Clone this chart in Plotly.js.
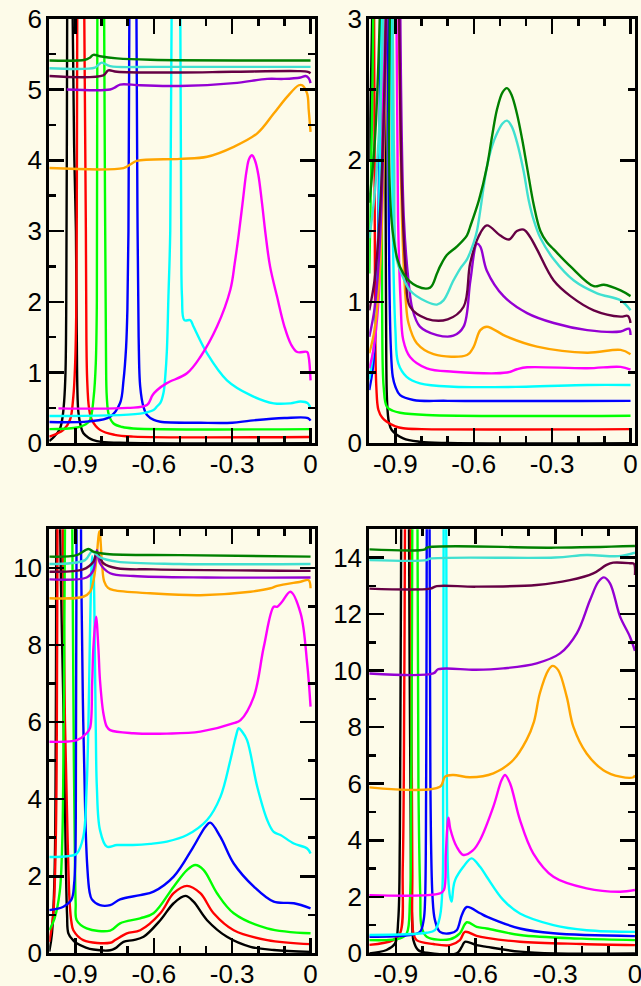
<!DOCTYPE html>
<html>
<head>
<meta charset="utf-8">
<script src="https://cdn.plot.ly/plotly-3.0.1.min.js"></script>
<style>
html,body{margin:0;padding:0;background:#fdfbe9;overflow:hidden;}
#chart{width:641px;height:986px;}
</style>
</head>
<body>
<div id="chart"></div>
<script>
// ---------- series names & colours ----------
const seriesNames = ['black','red','lime','blue','cyan','magenta','orange','violet','maroon','turquoise','green'];
const seriesColors = ['#000000','#ff0000','#00ff00','#0000ff','#00ffff','#ff00ff','#ffa500','#9400d3','#660044','#40e0d0','#008000'];

// ---------- tick labels ----------
const xTickVals = [-0.9, -0.6, -0.3, 0];
const xTickText = ['-0.9', '-0.6', '-0.3', '0'];
const yTickValsA = [0,1,2,3,4,5,6];
const yTickValsB = [0,1,2,3];
const yTickValsC = [0,2,4,6,8,10];
const yTickValsD = [0,2,4,6,8,10,12,14];

// ================= Panel A (top-left) =================
const A_black_x = [-1.0,-0.98,-0.96,-0.95,-0.943,-0.938,-0.935,-0.933,-0.931,-0.92,-0.912,-0.904,-0.898,-0.895,-0.889,-0.88,-0.87,-0.85,-0.834,-0.8,-0.7,0];
const A_black_y = [0.03,0.1,0.2,0.35,0.6,1.0,2,4,7,40,6.5,4,3,1.6,0.45,0.25,0.145,0.08,0.05,0.02,0.005,0];
const A_red_x = [-1.0,-0.946,-0.921,-0.908,-0.901,-0.897,-0.895,-0.893,-0.88,-0.866,-0.86,-0.858,-0.855,-0.848,-0.837,-0.806,-0.75,-0.679,0];
const A_red_y = [0.094,0.19,0.33,0.66,1.13,1.8,3,6,40,6,3,1.5,0.9,0.5,0.33,0.19,0.12,0.095,0.09];
const A_lime_x = [-1.0,-0.9,-0.86,-0.844,-0.83,-0.822,-0.818,-0.816,-0.803,-0.79,-0.786,-0.783,-0.78,-0.772,-0.754,-0.72,-0.679,0];
const A_lime_y = [0.2,0.22,0.27,0.33,0.66,1.13,2,6,40,6,3,1.3,0.66,0.4,0.28,0.23,0.21,0.2];
const A_blue_x = [-1.0,-0.85,-0.767,-0.729,-0.716,-0.706,-0.701,-0.697,-0.693,-0.68,-0.667,-0.662,-0.658,-0.652,-0.64,-0.626,-0.6,-0.575,-0.42,-0.3,-0.23,-0.1,-0.01,0];
const A_blue_y = [0.3,0.31,0.376,0.57,0.89,1.36,1.9,3,6.5,40,6.5,3,1.5,0.8,0.52,0.4,0.33,0.305,0.29,0.29,0.32,0.357,0.357,0.32];
const A_cyan_x = [-1.0,-0.652,-0.601,-0.588,-0.575,-0.563,-0.556,-0.55,-0.544,-0.537,-0.531,-0.515,-0.499,-0.495,-0.492,-0.483,-0.46,-0.448,-0.396,-0.32,-0.23,-0.141,-0.077,-0.038,-0.01,0];
const A_cyan_y = [0.385,0.42,0.47,0.52,0.57,0.71,0.95,1.3,2.07,3,6.5,40,6.5,3,2.07,1.74,1.74,1.65,1.27,0.89,0.68,0.565,0.565,0.59,0.565,0.49];
const A_magenta_x = [-0.965,-0.7,-0.626,-0.605,-0.588,-0.55,-0.473,-0.422,-0.358,-0.307,-0.29,-0.275,-0.26,-0.245,-0.235,-0.224,-0.213,-0.2,-0.186,-0.172,-0.155,-0.128,-0.1,-0.075,-0.051,-0.013,-0.007,0];
const A_magenta_y = [0.494,0.5,0.54,0.68,0.75,0.85,0.99,1.22,1.65,2.17,2.55,2.95,3.4,3.85,4.02,4.07,4.0,3.8,3.4,2.95,2.5,2.07,1.65,1.4,1.29,1.29,1.22,0.89];
const A_orange_x = [-1.0,-0.716,-0.69,-0.665,-0.5,-0.396,-0.294,-0.204,-0.141,-0.089,-0.045,-0.032,-0.013,-0.007,0];
const A_orange_y = [3.89,3.89,3.94,3.99,4.02,4.05,4.19,4.38,4.66,4.9,5.06,5.06,4.94,4.71,4.4];
const A_violet_x = [-0.933,-0.767,-0.748,-0.729,-0.652,-0.5,-0.294,-0.166,-0.102,-0.038,-0.019,-0.007,0];
const A_violet_y = [5.0,5.0,5.03,5.07,5.06,5.05,5.09,5.15,5.15,5.17,5.19,5.16,5.09];
const A_maroon_x = [-1.0,-0.793,-0.774,-0.741,-0.5,-0.3,-0.05,-0.01,0];
const A_maroon_y = [5.19,5.2,5.27,5.25,5.24,5.25,5.26,5.25,5.23];
const A_turquoise_x = [-1.0,-0.825,-0.812,-0.799,-0.767,-0.6,0];
const A_turquoise_y = [5.3,5.31,5.35,5.38,5.33,5.32,5.32];
const A_green_x = [-1.0,-0.863,-0.845,-0.831,-0.806,-0.741,-0.614,0];
const A_green_y = [5.41,5.42,5.45,5.49,5.47,5.44,5.42,5.41];

// ================= Panel B (top-right) =================
const B_black_x = [-1.0,-0.985,-0.97,-0.955,-0.942,-0.936,-0.932,-0.925,-0.914,-0.87,-0.806,-0.7,0];
const B_black_y = [2.0,3.5,8,40,4,1.0,0.3,0.15,0.094,0.035,0.011,0.002,0];
const B_red_x = [-1.0,-0.993,-0.985,-0.978,-0.973,-0.965,-0.95,-0.933,-0.9,-0.87,-0.8,0];
const B_red_y = [6,40,5,1.0,0.4,0.235,0.18,0.153,0.12,0.106,0.1,0.1];
const B_lime_x = [-1.0,-0.985,-0.975,-0.965,-0.955,-0.951,-0.945,-0.933,-0.91,-0.882,-0.78,0];
const B_lime_y = [1.2,3,8,40,4,1.0,0.4,0.26,0.23,0.216,0.2,0.195];
const B_blue_x = [-1.0,-0.985,-0.972,-0.962,-0.955,-0.945,-0.932,-0.925,-0.918,-0.91,-0.9,-0.882,-0.831,-0.7,0];
const B_blue_y = [0.377,0.55,1.0,2.0,4,40,4,1.5,0.7,0.47,0.4,0.34,0.306,0.3,0.3];
const B_cyan_x = [-1.0,-0.985,-0.97,-0.958,-0.95,-0.935,-0.92,-0.91,-0.9,-0.889,-0.857,-0.806,-0.678,-0.4,-0.166,0];
const B_cyan_y = [0.45,0.65,1.1,2.2,4,40,4,1.5,0.8,0.565,0.47,0.424,0.4,0.4,0.412,0.412];
const B_magenta_x = [-1.0,-0.985,-0.965,-0.952,-0.94,-0.92,-0.9,-0.89,-0.88,-0.87,-0.844,-0.78,-0.678,-0.473,-0.435,-0.396,-0.166,-0.038,0];
const B_magenta_y = [0.53,0.65,1.0,1.8,4,40,4,1.6,1.0,0.73,0.61,0.53,0.506,0.5,0.523,0.537,0.53,0.54,0.52];
const B_orange_x = [-1.0,-0.98,-0.96,-0.945,-0.93,-0.91,-0.89,-0.875,-0.86,-0.85,-0.818,-0.754,-0.626,-0.601,-0.575,-0.55,-0.473,-0.358,-0.166,-0.038,0];
const B_orange_y = [0.636,0.8,1.2,2.0,4,40,4,1.6,1.0,0.85,0.707,0.63,0.624,0.68,0.8,0.824,0.753,0.683,0.64,0.66,0.63];
const B_violet_x = [-1.0,-0.98,-0.96,-0.945,-0.925,-0.905,-0.885,-0.868,-0.85,-0.835,-0.806,-0.741,-0.678,-0.639,-0.613,-0.588,-0.575,-0.55,-0.486,-0.396,-0.294,-0.166,-0.038,-0.006,0];
const B_violet_y = [0.753,0.95,1.4,2.2,4,40,4,1.6,1.15,0.95,0.824,0.765,0.76,0.824,1.15,1.41,1.39,1.22,1.04,0.92,0.85,0.8,0.79,0.81,0.765];
const B_maroon_x = [-1.0,-0.98,-0.96,-0.945,-0.93,-0.91,-0.89,-0.875,-0.86,-0.844,-0.78,-0.7,-0.639,-0.614,-0.582,-0.55,-0.5,-0.465,-0.435,-0.409,-0.385,-0.358,-0.294,-0.23,-0.141,-0.038,-0.01,0];
const B_maroon_y = [0.94,1.15,1.6,2.3,4,40,4,1.8,1.2,0.965,0.88,0.876,0.965,1.27,1.46,1.54,1.47,1.44,1.5,1.51,1.46,1.37,1.15,1.04,0.94,0.895,0.9,0.85];
const B_turquoise_x = [-1.0,-0.98,-0.96,-0.945,-0.93,-0.915,-0.905,-0.895,-0.87,-0.844,-0.78,-0.741,-0.716,-0.678,-0.65,-0.626,-0.6,-0.588,-0.55,-0.53,-0.511,-0.49,-0.473,-0.455,-0.435,-0.409,-0.39,-0.371,-0.345,-0.294,-0.217,-0.128,-0.038,0];
const B_turquoise_y = [1.45,1.75,2.3,3.2,40,4,2.0,1.3,1.17,1.08,1.0,0.98,1.01,1.15,1.24,1.3,1.42,1.5,1.95,2.1,2.19,2.26,2.28,2.24,2.13,1.92,1.72,1.58,1.45,1.3,1.15,1.06,1.01,0.94];
const B_green_x = [-1.0,-0.98,-0.965,-0.95,-0.935,-0.92,-0.908,-0.87,-0.818,-0.767,-0.741,-0.729,-0.703,-0.665,-0.626,-0.614,-0.58,-0.55,-0.53,-0.511,-0.49,-0.473,-0.455,-0.435,-0.415,-0.396,-0.37,-0.345,-0.32,-0.294,-0.23,-0.141,-0.102,-0.038,0];
const B_green_y = [1.7,2.1,2.7,4,40,4,1.46,1.2,1.11,1.1,1.2,1.25,1.33,1.39,1.47,1.53,1.72,1.95,2.17,2.36,2.48,2.51,2.46,2.33,2.15,1.95,1.68,1.5,1.42,1.37,1.25,1.11,1.12,1.08,1.04];

// ================= Panel C (bottom-left) =================
const C_black_x = [-1.0,-0.99,-0.98,-0.975,-0.968,-0.96,-0.945,-0.937,-0.932,-0.927,-0.91,-0.895,-0.86,-0.831,-0.767,-0.748,-0.716,-0.678,-0.639,-0.575,-0.524,-0.479,-0.448,-0.396,-0.32,-0.23,-0.141,0];
const C_black_y = [0.05,0.5,2,6,40,12,6,2.5,1.0,0.52,0.35,0.26,0.15,0.1,0.08,0.13,0.3,0.345,0.43,0.86,1.3,1.49,1.34,0.86,0.43,0.17,0.086,0.04];
const C_red_x = [-1.0,-0.985,-0.975,-0.97,-0.96,-0.95,-0.94,-0.93,-0.922,-0.915,-0.908,-0.87,-0.767,-0.748,-0.703,-0.652,-0.575,-0.524,-0.473,-0.422,-0.371,-0.294,-0.166,0];
const C_red_y = [0.3,1.0,3,8,40,12,6,3,1.3,0.8,0.6,0.345,0.275,0.345,0.52,0.6,1.04,1.56,1.75,1.56,1.04,0.6,0.345,0.24];
const C_lime_x = [-1.0,-0.98,-0.96,-0.95,-0.945,-0.94,-0.925,-0.912,-0.906,-0.902,-0.899,-0.895,-0.857,-0.767,-0.729,-0.652,-0.601,-0.524,-0.473,-0.441,-0.409,-0.358,-0.294,-0.166,0];
const C_lime_y = [0.6,0.9,1.6,3,6,11,40,11,5,2.5,1.3,0.86,0.65,0.59,0.78,0.91,1.04,1.73,2.16,2.29,2.16,1.56,1.04,0.65,0.52];
const C_blue_x = [-1.0,-0.946,-0.915,-0.905,-0.9,-0.898,-0.896,-0.888,-0.878,-0.87,-0.862,-0.855,-0.846,-0.837,-0.806,-0.767,-0.729,-0.652,-0.601,-0.524,-0.448,-0.403,-0.384,-0.345,-0.294,-0.217,-0.141,-0.064,0];
const C_blue_y = [1.12,1.21,1.4,1.8,2.6,5,10,30,10,6,3.5,2.3,1.6,1.4,1.25,1.25,1.4,1.51,1.6,1.99,2.77,3.28,3.39,3.02,2.33,1.73,1.34,1.3,1.17];
const C_cyan_x = [-1.0,-0.93,-0.895,-0.87,-0.857,-0.85,-0.845,-0.84,-0.836,-0.831,-0.826,-0.822,-0.818,-0.806,-0.78,-0.741,-0.68,-0.614,-0.55,-0.473,-0.396,-0.345,-0.307,-0.285,-0.275,-0.262,-0.243,-0.204,-0.166,-0.141,-0.115,-0.064,-0.013,0];
const C_cyan_y = [2.5,2.52,2.59,3.02,4.32,6.05,8,9.7,10.3,10.0,8,5.8,4.32,3.2,2.77,2.81,2.81,2.84,2.9,3.07,3.46,4.06,5.01,5.65,5.84,5.75,5.53,4.32,3.46,3.15,3.07,2.85,2.72,2.59];
const C_magenta_x = [-1.0,-0.895,-0.857,-0.844,-0.836,-0.831,-0.821,-0.812,-0.806,-0.793,-0.78,-0.767,-0.678,-0.55,-0.422,-0.294,-0.268,-0.217,-0.179,-0.141,-0.128,-0.109,-0.077,-0.038,-0.013,0];
const C_magenta_y = [5.49,5.53,5.71,5.85,7.0,7.95,8.73,7.9,7.09,6.23,5.88,5.79,5.71,5.7,5.75,5.97,6.05,6.66,7.95,8.99,8.99,9.12,9.38,8.82,7.52,6.4];
const C_orange_x = [-1.0,-0.87,-0.844,-0.83,-0.82,-0.808,-0.798,-0.79,-0.775,-0.754,-0.614,-0.422,-0.23,-0.153,-0.128,-0.038,-0.007,0];
const C_orange_y = [9.21,9.25,9.38,9.7,10.2,10.95,10.1,9.65,9.48,9.42,9.34,9.29,9.38,9.47,9.53,9.64,9.68,9.47];
const C_violet_x = [-1.0,-0.857,-0.831,-0.818,-0.806,-0.767,-0.678,-0.4,0];
const C_violet_y = [9.7,9.75,9.94,10.46,10.12,9.86,9.79,9.75,9.75];
const C_maroon_x = [-1.0,-0.87,-0.831,-0.818,-0.793,-0.741,-0.6,0];
const C_maroon_y = [9.9,9.96,10.16,10.4,10.12,9.99,9.96,9.92];
const C_turquoise_x = [-1.0,-0.863,-0.837,-0.806,-0.741,-0.5,0];
const C_turquoise_y = [10.1,10.2,10.42,10.27,10.16,10.1,10.1];
const C_green_x = [-1.0,-0.895,-0.85,-0.831,-0.78,-0.5,0];
const C_green_y = [10.29,10.33,10.49,10.42,10.36,10.33,10.29];

// ================= Panel D (bottom-right) =================
const D_black_x = [-1.0,-0.935,-0.903,-0.891,-0.885,-0.882,-0.866,-0.848,-0.843,-0.838,-0.834,-0.816,-0.784,-0.671,-0.652,-0.64,-0.596,-0.558,-0.433,-0.3,0];
const D_black_y = [0.0,0.12,0.35,1.18,4,10,40,10,3,1.0,0.47,0.12,0.02,0.0,0.23,0.41,0.29,0.23,0.06,0.0,0.0];
const D_red_x = [-1.0,-0.91,-0.884,-0.874,-0.868,-0.855,-0.842,-0.838,-0.834,-0.822,-0.759,-0.696,-0.659,-0.64,-0.596,-0.558,-0.433,-0.2,0];
const D_red_y = [0.3,0.47,0.71,3.06,10,40,10,3,0.71,0.47,0.33,0.29,0.47,0.76,0.62,0.55,0.41,0.33,0.29];
const D_lime_x = [-1.0,-0.884,-0.859,-0.847,-0.842,-0.828,-0.815,-0.808,-0.803,-0.784,-0.696,-0.659,-0.633,-0.596,-0.558,-0.433,-0.2,0];
const D_lime_y = [0.47,0.53,0.71,1.89,6,40,6,2,0.94,0.59,0.5,0.71,1.1,0.94,0.88,0.65,0.52,0.47];
const D_blue_x = [-1.0,-0.847,-0.809,-0.795,-0.79,-0.786,-0.779,-0.77,-0.762,-0.753,-0.734,-0.696,-0.671,-0.652,-0.633,-0.583,-0.558,-0.433,-0.307,0];
const D_blue_y = [0.59,0.65,0.76,1.2,1.89,6,40,6,2,1.18,0.76,0.71,0.82,1.35,1.64,1.42,1.3,0.88,0.71,0.61];
const D_cyan_x = [-1.0,-0.784,-0.753,-0.734,-0.724,-0.722,-0.715,-0.708,-0.703,-0.696,-0.69,-0.684,-0.677,-0.646,-0.615,-0.583,-0.558,-0.496,-0.433,-0.307,-0.182,0];
const D_cyan_y = [0.65,0.73,0.82,1.3,2.48,6,40,6,2.7,2.0,1.83,2.3,2.59,3.06,3.36,3.06,2.71,1.89,1.41,1.0,0.82,0.76];
const D_magenta_x = [-1.0,-0.734,-0.719,-0.712,-0.706,-0.702,-0.695,-0.671,-0.646,-0.609,-0.583,-0.533,-0.502,-0.489,-0.47,-0.433,-0.383,-0.307,-0.182,-0.056,0];
const D_magenta_y = [2.06,2.12,2.24,3.5,4.5,4.8,4.4,3.77,3.48,3.65,4.01,5.19,6.13,6.31,6.01,4.72,3.54,2.71,2.3,2.18,2.24];
const D_orange_x = [-1.0,-0.734,-0.715,-0.684,-0.621,-0.533,-0.458,-0.408,-0.38,-0.358,-0.326,-0.31,-0.289,-0.257,-0.232,-0.182,-0.119,-0.056,-0.006,0];
const D_orange_y = [5.87,5.89,6.25,6.31,6.23,6.37,6.84,7.55,8.2,9.2,10.02,10.17,10.02,9.08,8.02,7.07,6.48,6.25,6.23,6.3];
const D_violet_x = [-1.0,-0.759,-0.74,-0.6,-0.496,-0.37,-0.282,-0.219,-0.169,-0.138,-0.117,-0.094,-0.056,-0.019,0];
const D_violet_y = [9.9,9.9,10.05,10.03,10.08,10.26,10.61,11.32,12.5,13.14,13.3,13.09,11.91,11.2,10.7];
const D_maroon_x = [-1.0,-0.772,-0.746,-0.6,-0.37,-0.245,-0.157,-0.107,-0.082,-0.019,-0.004,0];
const D_maroon_y = [12.9,12.9,12.99,12.97,13.03,13.2,13.44,13.74,13.82,13.8,13.78,13.38];
const D_turquoise_x = [-1.0,-0.784,-0.772,-0.3,-0.182,-0.06,0];
const D_turquoise_y = [13.91,13.91,13.96,14.0,14.09,14.05,14.17];
const D_green_x = [-1.0,-0.79,-0.784,-0.3,0];
const D_green_y = [14.29,14.29,14.35,14.35,14.41];

// ---------- assemble ----------
const panelData = {
  A: {xs:[A_black_x,A_red_x,A_lime_x,A_blue_x,A_cyan_x,A_magenta_x,A_orange_x,A_violet_x,A_maroon_x,A_turquoise_x,A_green_x],
      ys:[A_black_y,A_red_y,A_lime_y,A_blue_y,A_cyan_y,A_magenta_y,A_orange_y,A_violet_y,A_maroon_y,A_turquoise_y,A_green_y], xa:'x', ya:'y'},
  B: {xs:[B_black_x,B_red_x,B_lime_x,B_blue_x,B_cyan_x,B_magenta_x,B_orange_x,B_violet_x,B_maroon_x,B_turquoise_x,B_green_x],
      ys:[B_black_y,B_red_y,B_lime_y,B_blue_y,B_cyan_y,B_magenta_y,B_orange_y,B_violet_y,B_maroon_y,B_turquoise_y,B_green_y], xa:'x2', ya:'y2'},
  C: {xs:[C_black_x,C_red_x,C_lime_x,C_blue_x,C_cyan_x,C_magenta_x,C_orange_x,C_violet_x,C_maroon_x,C_turquoise_x,C_green_x],
      ys:[C_black_y,C_red_y,C_lime_y,C_blue_y,C_cyan_y,C_magenta_y,C_orange_y,C_violet_y,C_maroon_y,C_turquoise_y,C_green_y], xa:'x3', ya:'y3'},
  D: {xs:[D_black_x,D_red_x,D_lime_x,D_blue_x,D_cyan_x,D_magenta_x,D_orange_x,D_violet_x,D_maroon_x,D_turquoise_x,D_green_x],
      ys:[D_black_y,D_red_y,D_lime_y,D_blue_y,D_cyan_y,D_magenta_y,D_orange_y,D_violet_y,D_maroon_y,D_turquoise_y,D_green_y], xa:'x4', ya:'y4'}
};

const traces = [];
Object.keys(panelData).forEach(function(k){
  const p = panelData[k];
  for (let i = 0; i < seriesNames.length; i++) {
    traces.push({
      type:'scatter', mode:'lines', name: k + ' ' + seriesNames[i],
      x: p.xs[i], y: p.ys[i], xaxis: p.xa, yaxis: p.ya,
      line:{color: seriesColors[i], width: 2.4, shape:'spline', smoothing: 1},
      hoverinfo:'skip'
    });
  }
});

const FONT = 'Liberation Sans, Arial, Helvetica, sans-serif';
function xAxis(domain, anchor, range) {
  return {
    domain: domain, anchor: anchor, range: range,
    showline: true, linecolor: '#000', linewidth: 3, mirror: 'ticks',
    ticks: 'inside', ticklen: 15, tickwidth: 2.5, tickcolor: '#000',
    tickmode: 'array', tickvals: xTickVals, ticktext: xTickText,
    minor: {tickmode: 'linear', tick0: 0, dtick: 0.1, ticks: 'inside', ticklen: 7, tickwidth: 2.5, tickcolor: '#000', showgrid: false},
    showgrid: false, zeroline: false, ticklabelstandoff: -5, ticklabeloverflow: 'allow',
    tickfont: {family: FONT, size: 26, color: '#000'}, fixedrange: true
  };
}
function yAxis(domain, anchor, range, vals, minorStep) {
  return {
    domain: domain, anchor: anchor, range: range,
    showline: true, linecolor: '#000', linewidth: 3, mirror: 'ticks',
    ticks: 'inside', ticklen: 15, tickwidth: 2.5, tickcolor: '#000',
    tickmode: 'array', tickvals: vals, ticktext: vals.map(String),
    minor: {tickmode: 'linear', tick0: 0, dtick: minorStep, ticks: 'inside', ticklen: 7, tickwidth: 2.5, tickcolor: '#000', showgrid: false},
    showgrid: false, zeroline: false, ticklabelstandoff: -1, ticklabeloverflow: 'allow',
    tickfont: {family: FONT, size: 26, color: '#000'}, fixedrange: true
  };
}

const dxL = [0.0769, 0.4914], dxR = [0.5761, 0.9906];
const dyT = [0.5504, 0.981], dyB = [0.0331, 0.4632];

const layout = {
  width: 641, height: 986,
  margin: {l:0, r:0, t:0, b:0},
  paper_bgcolor: '#fdfbe9', plot_bgcolor: '#fdfbe9',
  showlegend: false,
  font: {family: FONT, color: '#000'},
  xaxis:  xAxis(dxL, 'y',  [-1.0, 0.017]),
  xaxis2: xAxis(dxR, 'y2', [-1.0, 0.017]),
  xaxis3: xAxis(dxL, 'y3', [-1.0, 0.017]),
  xaxis4: xAxis(dxR, 'y4', [-1.0, 0.0]),
  yaxis:  yAxis(dyT, 'x',  [0, 6],  yTickValsA, 0.5),
  yaxis2: yAxis(dyT, 'x2', [0, 3],  yTickValsB, 0.5),
  yaxis3: yAxis(dyB, 'x3', [0, 11], yTickValsC, 1),
  yaxis4: yAxis(dyB, 'x4', [0, 15], yTickValsD, 1)
};

Plotly.newPlot('chart', traces, layout, {displayModeBar: false, staticPlot: true});
</script>
</body>
</html>
